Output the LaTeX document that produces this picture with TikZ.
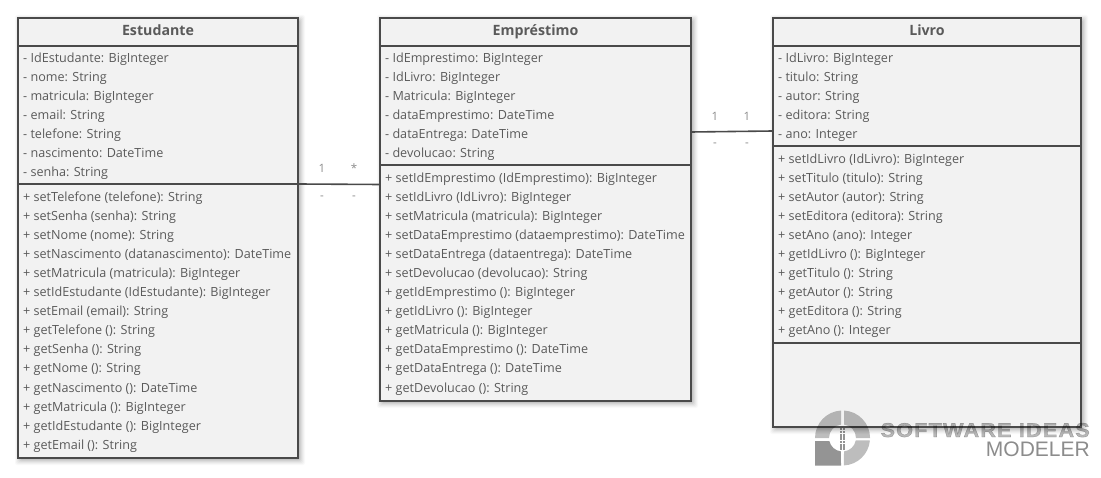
\documentclass[tikz,border=0pt]{standalone}
\usepackage{fontspec}
\setmainfont{Open Sans}
\newfontfamily\logofont{Liberation Sans}
\definecolor{boxline}{HTML}{4A4A4A}
\definecolor{boxfill}{HTML}{F2F2F2}
\definecolor{inktext}{HTML}{5A5A5A}
\definecolor{assoc}{HTML}{8C8C8C}
\tikzset{
  x=1pt,y=-1pt,
  umlbox/.style={draw=boxline,line width=1.7pt,fill=boxfill,inner sep=0pt,outer sep=0pt,anchor=north west},
  sep/.style={draw=boxline,line width=1.6pt},
  item/.style={anchor=base west,inner sep=0pt,text=inktext,font=\fontsize{12.6}{14}\selectfont},
  titletext/.style={anchor=base,inner sep=0pt,text=inktext,font=\fontsize{14.2}{16}\selectfont\bfseries},
  mult/.style={anchor=center,inner sep=0pt,text=assoc,font=\fontsize{11.5}{13}\selectfont},
  link/.style={draw=boxline,line width=1.6pt},
  logoA/.style={fill=black,fill opacity=.26,draw=none},
  logoB/.style={fill=black,fill opacity=.42,draw=none},
}
\newcommand{\umlshadow}[4]{% x y w h
  \foreach \d/\o in {7/.025,6/.03,5/.035,4/.04,3/.05,2/.06}{
    \fill[black,opacity=\o,rounded corners=2pt] (#1+4-\d,#2+4-\d) rectangle (#1+#3+\d,#2+#4+\d);
  }
}
\begin{document}
\begin{tikzpicture}
\useasboundingbox (0,0) rectangle (1101,478);
\fill[white] (0,0) rectangle (1101,478);
% shadows
\umlshadow{18}{18}{280}{440}
\umlshadow{380}{18}{311}{383}
\umlshadow{773}{18}{308}{409}
% boxes
\node[umlbox,minimum width=280pt,minimum height=440pt] (est) at (18,18) {};
\node[umlbox,minimum width=311pt,minimum height=383pt] (emp) at (380,18) {};
\node[umlbox,minimum width=308pt,minimum height=409pt] (liv) at (773,18) {};
% separators
\draw[sep] (est.west |- 0,46) -- (est.east |- 0,46);
\draw[sep] (est.west |- 0,184) -- (est.east |- 0,184);
\draw[sep] (emp.west |- 0,46) -- (emp.east |- 0,46);
\draw[sep] (emp.west |- 0,165) -- (emp.east |- 0,165);
\draw[sep] (liv.west |- 0,46) -- (liv.east |- 0,46);
\draw[sep] (liv.west |- 0,146) -- (liv.east |- 0,146);
\draw[sep] (liv.west |- 0,343) -- (liv.east |- 0,343);
% titles
\node[titletext] (estT) at (158,36) {Estudante};
\node[titletext] (empT) at (535.5,36) {Empréstimo};
\node[titletext] (livT) at (927,36) {Livro};
% Estudante
\foreach \t [count=\i from 0] in {- IdEstudante: BigInteger,- nome: String,- matricula: BigInteger,- email: String,- telefone: String,- nascimento: DateTime,- senha: String}
  \node[item] (estA\i) at (23,63+19*\i) {\t};
\foreach \t [count=\i from 0] in {+ setTelefone (telefone): String,+ setSenha (senha): String,+ setNome (nome): String,+ setNascimento (datanascimento): DateTime,+ setMatricula (matricula): BigInteger,+ setIdEstudante (IdEstudante): BigInteger,+ setEmail (email): String,+ getTelefone (): String,+ getSenha (): String,+ getNome (): String,+ getNascimento (): DateTime,+ getMatricula (): BigInteger,+ getIdEstudante (): BigInteger,+ getEmail (): String}
  \node[item] (estM\i) at (23,202+19*\i) {\t};
% Emprestimo
\foreach \t [count=\i from 0] in {- IdEmprestimo: BigInteger,- IdLivro: BigInteger,- Matricula: BigInteger,- dataEmprestimo: DateTime,- dataEntrega: DateTime,- devolucao: String}
  \node[item] (empA\i) at (385,63+19*\i) {\t};
\foreach \t [count=\i from 0] in {+ setIdEmprestimo (IdEmprestimo): BigInteger,+ setIdLivro (IdLivro): BigInteger,+ setMatricula (matricula): BigInteger,+ setDataEmprestimo (dataemprestimo): DateTime,+ setDataEntrega (dataentrega): DateTime,+ setDevolucao (devolucao): String,+ getIdEmprestimo (): BigInteger,+ getIdLivro (): BigInteger,+ getMatricula (): BigInteger,+ getDataEmprestimo (): DateTime,+ getDataEntrega (): DateTime,+ getDevolucao (): String}
  \node[item] (empM\i) at (385,183+19*\i) {\t};
% Livro
\foreach \t [count=\i from 0] in {- IdLivro: BigInteger,- titulo: String,- autor: String,- editora: String,- ano: Integer}
  \node[item] (livA\i) at (778,63+19*\i) {\t};
\foreach \t [count=\i from 0] in {+ setIdLivro (IdLivro): BigInteger,+ setTitulo (titulo): String,+ setAutor (autor): String,+ setEditora (editora): String,+ setAno (ano): Integer,+ getIdLivro (): BigInteger,+ getTitulo (): String,+ getAutor (): String,+ getEditora (): String,+ getAno (): Integer}
  \node[item] (livM\i) at (778,164+19*\i) {\t};
% connectors
\draw[link] ([yshift=54pt]est.east) -- ([yshift=25pt]emp.west);
\draw[link] ([yshift=77.5pt]emp.east) -- ([yshift=91.5pt]liv.west);
% multiplicities
\node[mult] (m1) at (322,168) {1};
\node[mult] (m2) at (354,168) {*};
\node[mult] (m3) at (322,198) {-};
\node[mult] (m4) at (354,198) {-};
\node[mult] (m5) at (715,116) {1};
\node[mult] (m6) at (747,116) {1};
\node[mult] (m7) at (715,145) {-};
\node[mult] (m8) at (747,145) {-};
% logo (y up inside this scope, origin at the centre of the ring)
\begin{scope}[shift={(842.5,438)},x=1pt,y=1pt]
  \fill[logoA] (-27.5,0) arc (180:93:27.5) -- (-1.5,13.4) arc (96.4:180:13.5) -- cycle;
  \fill[logoA] (1.5,27.46) arc (87:0:27.5) -- (13.5,0) arc (0:83.6:13.5) -- cycle;
  \fill[logoA] (27.4,-2.5) arc (-5.2:-87:27.5) -- (1.5,-13.4) arc (-83.6:-10.7:13.5) -- cycle;
  \fill[logoB] (-27.5,-3) -- (-13.2,-3) arc (192.8:263.6:13.5) -- (-1.5,-27.7) -- (-27.5,-27.7) -- cycle;
  \foreach \r in {0,...,6}{
    \fill[logoB] (-2.8,10.5-3.3*\r) rectangle (-0.3,8-3.3*\r);
    \fill[logoB] (0.3,10.5-3.3*\r) rectangle (2.8,8-3.3*\r);
  }
\end{scope}
\node[anchor=base east,inner sep=0pt,text=black,text opacity=.28,font=\logofont\bfseries\fontsize{20}{20}\selectfont] (logo1) at (1090,437) {\scalebox{1.09}[1]{\addfontfeature{LetterSpace=5,FakeBold=1.5}SOFTWARE IDEAS}};
\node[anchor=base east,inner sep=0pt,text=black,text opacity=.45,font=\logofont\fontsize{21}{21}\selectfont] (logo2) at (1090,456) {MODELER};
\end{tikzpicture}
\end{document}
